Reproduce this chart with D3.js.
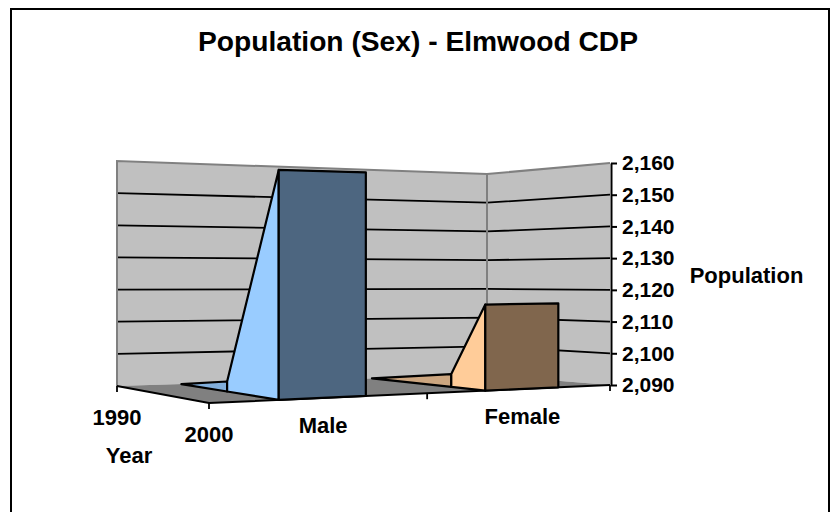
<!DOCTYPE html>
<html><head><meta charset="utf-8">
<script src="https://cdn.jsdelivr.net/npm/d3@7"></script>
<style>html,body{margin:0;padding:0;background:#fff}svg{display:block}
text{font-family:"Liberation Sans",Arial,sans-serif;font-weight:bold;fill:#000}</style>
</head><body><script>
const categories = ["Male", "Female"];
const years = ["1990", "2000"];
const male = [2093, 2155];
const female = [2094, 2116];
const valueTicks = [2090, 2100, 2110, 2120, 2130, 2140, 2150, 2160];
const titleText = "Population (Sex) - Elmwood CDP";

const W = 830, H = 512;
const svg = d3.select("body").append("svg").attr("width", W).attr("height", H);
svg.append("rect").attr("x", 11).attr("y", 9).attr("width", 818).attr("height", 510)
  .attr("fill", "#fff").attr("stroke", "#000").attr("stroke-width", 2);

// projected box corners on screen
const floorBack = [[117, 386], [487, 375]], floorFront = [[209, 403], [610, 385]];
const topBack = [[117, 161], [487, 174]], topFront = [[209, 150], [610, 163]];
const persp = 0.193;
const lerp = (a, b, k) => a + (b - a) * k;
const lerp2 = (a, b, k) => [lerp(a[0], b[0], k), lerp(a[1], b[1], k)];
const vNorm = d3.scaleLinear().domain([2090, 2160]).range([0, 1]);
const catBand = d3.scaleBand().domain(categories).range([0, 1]).paddingInner(0.6).paddingOuter(0.3);
function project(t, d, value) {
  const u = t * (1 + persp) / (1 + persp * t);
  const f = lerp2(lerp2(floorBack[0], floorBack[1], u), lerp2(floorFront[0], floorFront[1], u), d);
  const c = lerp2(lerp2(topBack[0], topBack[1], u), lerp2(topFront[0], topFront[1], u), d);
  return lerp2(f, c, vNorm(value));
}
const line = d3.line();
const v0 = valueTicks[0], v1 = valueTicks[valueTicks.length - 1];

// walls
svg.append("path").attr("fill", "#C0C0C0").attr("d",
  line([project(0,0,v0), project(0,0,v1), project(1,0,v1), project(1,1,v1), project(1,1,v0), project(1,0,v0)]) + "Z");
// grid lines
svg.append("g").selectAll("path").data(valueTicks.slice(1, -1)).join("path")
  .attr("fill", "none").attr("stroke", "#000").attr("stroke-width", 1.8)
  .attr("d", v => line([project(0,0,v), project(1,0,v), project(1,1,v)]));
// wall edges
svg.append("path").attr("fill", "none").attr("stroke", "#808080").attr("stroke-width", 2)
  .attr("d", line([project(0,0,v0), project(0,0,v1), project(1,0,v1), project(1,1,v1)]));
svg.append("path").attr("fill", "none").attr("stroke", "#808080").attr("stroke-width", 2)
  .attr("d", line([project(1,0,v1), project(1,0,v0)]));
// floor
svg.append("path").attr("fill", "#808080").attr("stroke", "none").attr("d",
  line([project(0,0,v0), project(1,0,v0), project(1,1,v0), project(0,1,v0)]) + "Z");
svg.append("path").attr("fill", "none").attr("stroke", "#000").attr("stroke-width", 2)
  .attr("d", line([project(0,0,v0), project(0,1,v0), project(1,1,v0)]));

// ticks along the floor
const tickPts = [[0,0],[0,1],[0.5,1],[1,1]].map(p => project(p[0], p[1], v0));
svg.append("g").selectAll("line").data(tickPts).join("line")
  .attr("x1", p => p[0]).attr("x2", p => p[0]).attr("y1", p => p[1]).attr("y2", p => p[1] + 6)
  .attr("stroke", "#000").attr("stroke-width", 1.8);

// one sloped solid per category
const palette = {
  Male:   {flat: "#82AFDC", side: "#99CCFF", front: "#4D6680", mid: 0.47},
  Female: {flat: "#CCA680", side: "#FFCC99", front: "#80664D", mid: 0.70}
};
const rows = [male, female];
categories.forEach((cat, i) => {
  const a = catBand(cat), b = a + catBand.bandwidth(), st = palette[cat];
  const g = svg.append("g").attr("stroke", "#000").attr("stroke-width", 2.2).attr("stroke-linejoin", "round");
  const back = project(a, 0, v0);
  const midF = project(a, st.mid, v0), midT = project(a, st.mid, rows[i][0]);
  const frF = project(a, 1, v0), frT = project(a, 1, rows[i][1]);
  const frF2 = project(b, 1, v0), frT2 = project(b, 1, rows[i][1]);
  g.append("path").attr("fill", st.flat).attr("d", line([back, midT, midF]) + "Z");
  g.append("path").attr("fill", st.side).attr("d", line([midF, midT, frT, frF]) + "Z");
  g.append("path").attr("fill", st.front).attr("d", line([frF, frT, frT2, frF2]) + "Z");
});

// value axis
const y = d3.scaleLinear().domain([v0, v1]).range([385, 163]);
const axis = svg.append("g").attr("transform", "translate(611,0)")
  .call(d3.axisRight(y).tickValues(valueTicks).tickFormat(d3.format(",")).tickSize(6).tickPadding(5).tickSizeOuter(0));
axis.selectAll("path,line").attr("stroke", "#000").attr("stroke-width", 2);
axis.selectAll("text").attr("font-size", 21);

// labels
const txt = (s, x, yy, size) => svg.append("text").attr("x", x).attr("y", yy)
  .attr("text-anchor", "middle").attr("font-size", size).text(s);
txt(titleText, 418, 51, 28.2);
years.forEach((yr, i) => {
  const p = project(0, i, v0);
  txt(yr, p[0], p[1] + (i ? 38.5 : 39), 22);
});
categories.forEach(cat => {
  const p = project(catBand(cat) + catBand.bandwidth() / 2, 1, v0);
  txt(cat, p[0], p[1] + 35.5, 22);
});
txt("Year", 129, 463, 22);
txt("Population", 746.5, 283, 22);
</script></body></html>
